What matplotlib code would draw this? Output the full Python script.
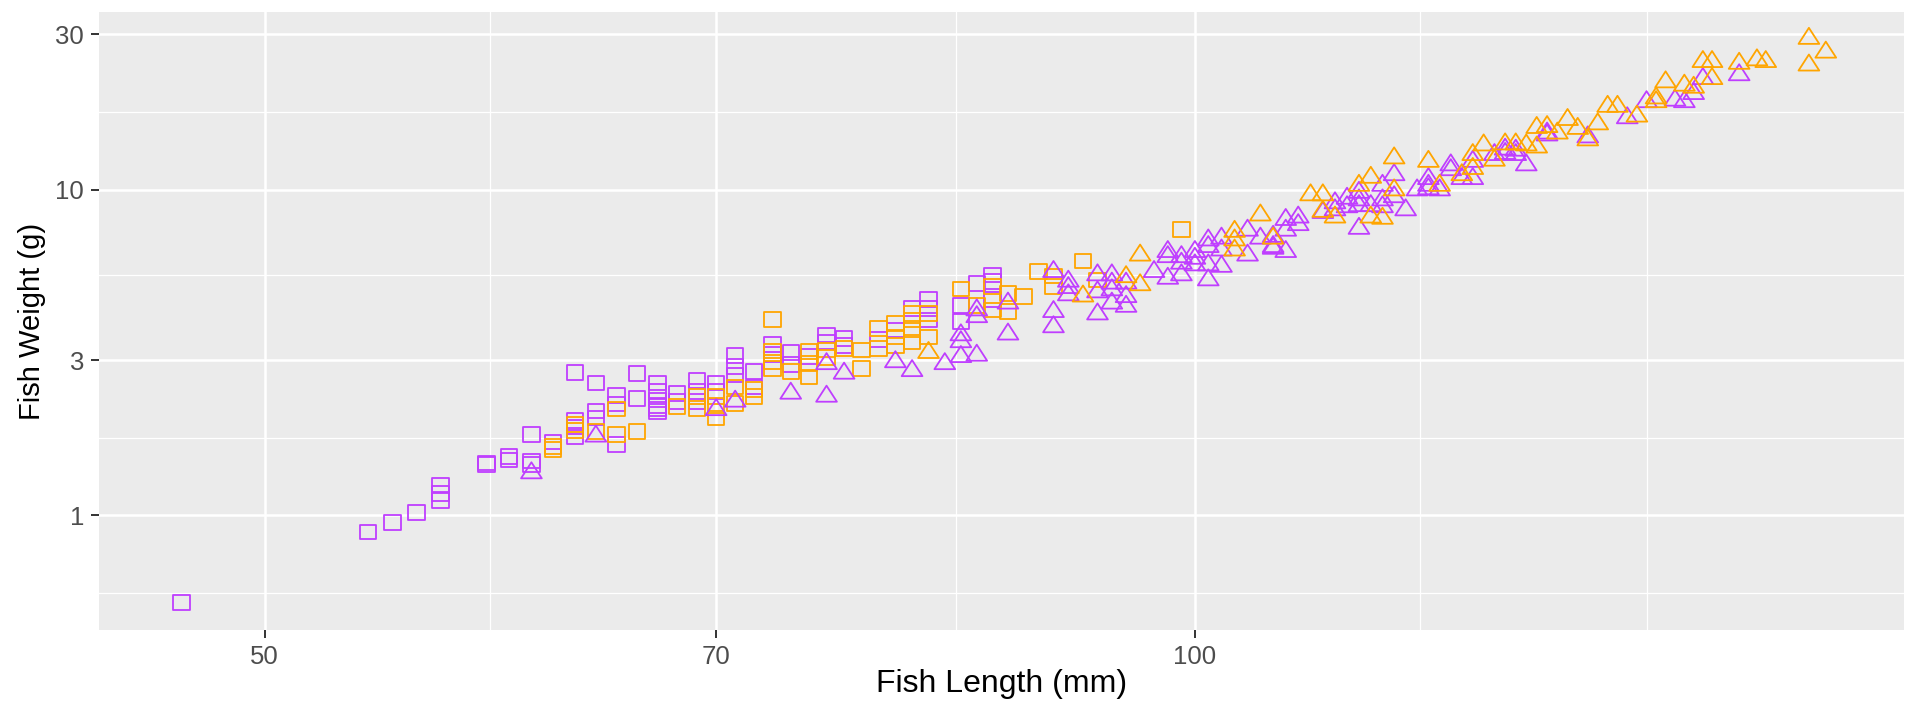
import matplotlib
matplotlib.use("Agg")
import matplotlib.pyplot as plt
from matplotlib.path import Path

# fish length (mm) and weight (g)
purple_squares = [(47, 0.54), (54, 0.89), (55, 0.95), (56, 1.02), (57, 1.11), (57, 1.17), (57, 1.24),
                  (59, 1.43), (59, 1.45), (60, 1.48), (60, 1.52), (61, 1.77), (61, 1.43), (61, 1.47),
                  (62, 1.68), (63, 2.75), (63, 1.96), (63, 1.87), (63, 1.74), (64, 2.55), (64, 2.09),
                  (64, 1.99), (65, 2.33), (65, 2.20), (65, 1.65), (66, 2.73), (66, 2.29), (67, 2.55),
                  (67, 2.40), (67, 2.26), (67, 2.18), (67, 2.08), (67, 2.12), (68, 2.37), (68, 2.24),
                  (69, 2.60), (69, 2.40), (69, 2.24), (70, 2.55), (70, 2.40), (71, 3.09), (71, 2.86),
                  (71, 2.70), (72, 2.76), (72, 2.48), (73, 3.35), (73, 3.12), (74, 3.16), (74, 2.90),
                  (75, 3.07), (76, 3.58), (76, 3.41), (77, 3.50), (77, 3.33), (79, 3.46), (80, 3.71),
                  (81, 4.32), (82, 4.60), (82, 4.32), (82, 3.98), (84, 4.42), (84, 3.94), (85, 5.16),
                  (86, 5.47), (86, 5.23), (86, 4.59)]

orange_squares = [(62, 1.63), (62, 1.59), (63, 1.90), (63, 1.82), (64, 1.81), (65, 2.12), (65, 1.77),
                  (66, 1.81), (68, 2.16), (69, 2.32), (69, 2.13), (70, 2.32), (70, 2.18), (70, 1.99),
                  (71, 2.48), (71, 2.21), (72, 2.43), (72, 2.32), (73, 4.00), (73, 3.20), (73, 2.96),
                  (73, 2.83), (74, 2.76), (75, 3.18), (75, 2.93), (75, 2.66), (76, 3.22), (76, 3.05),
                  (77, 3.25), (78, 3.22), (78, 2.83), (79, 3.75), (79, 3.25), (80, 3.88), (80, 3.53),
                  (80, 3.33), (81, 4.17), (81, 3.98), (81, 3.71), (81, 3.41), (82, 4.17), (82, 3.53),
                  (84, 4.95), (85, 4.42), (86, 5.05), (86, 4.27), (87, 4.80), (87, 4.22), (88, 4.71),
                  (89, 5.60), (90, 5.43), (90, 5.05), (92, 6.04), (93, 5.28), (99, 7.55)]

purple_triangles = [(61, 1.35), (64, 1.75), (70, 2.11), (71, 2.24), (74, 2.37), (76, 2.92), (76, 2.32),
                    (77, 2.73), (80, 2.96), (81, 2.78), (83, 2.92), (84, 3.58), (84, 3.41), (84, 3.07),
                    (85, 4.27), (85, 4.07), (85, 3.10), (87, 4.48), (87, 3.60), (90, 5.60), (90, 4.22),
                    (90, 3.79), (91, 5.23), (91, 5.00), (91, 4.75), (93, 5.47), (93, 4.85), (93, 4.15),
                    (94, 5.47), (94, 5.16), (94, 4.92), (94, 4.48), (95, 5.16), (95, 4.69), (95, 4.38),
                    (97, 5.60), (98, 6.45), (98, 6.22), (98, 5.34), (99, 6.22), (99, 5.94), (99, 5.47),
                    (100, 6.45), (100, 6.15), (100, 5.87), (101, 7.00), (101, 6.68), (101, 5.87),
                    (101, 5.28), (102, 7.09), (102, 6.52), (102, 5.81), (104, 7.50), (104, 6.29),
                    (105, 7.09), (106, 6.68), (106, 7.18), (106, 6.60), (107, 8.09), (107, 7.50),
                    (107, 6.45), (108, 8.23), (108, 7.80), (110, 8.50), (111, 9.10), (111, 8.66),
                    (112, 9.40), (112, 8.85), (113, 9.80), (113, 9.29), (113, 8.92), (113, 7.60),
                    (114, 8.92), (115, 10.3), (115, 9.29), (115, 8.85), (116, 11.1), (116, 9.50),
                    (117, 8.66), (118, 9.97), (119, 10.8), (119, 10.3), (119, 10.05), (120, 9.97),
                    (121, 11.9), (121, 11.5), (122, 10.8), (123, 12.2), (123, 10.8), (125, 12.8),
                    (126, 13.3), (126, 12.9), (127, 13.2), (127, 12.8), (128, 11.9), (130, 14.9),
                    (130, 14.7), (134, 14.5), (138, 16.6), (140, 18.6), (143, 18.8), (144, 18.6),
                    (145, 19.7), (146, 21.9), (150, 22.5)]

orange_triangles = [(82, 3.16), (92, 4.71), (95, 5.40), (96, 6.29), (96, 5.10), (103, 7.44), (103, 7.00),
                    (103, 6.52), (105, 8.35), (106, 7.09), (109, 9.63), (110, 9.63), (110, 8.57),
                    (111, 8.23), (113, 10.3), (114, 10.9), (114, 8.23), (115, 8.16), (116, 12.5),
                    (116, 9.97), (119, 12.2), (120, 10.3), (122, 11.1), (123, 12.8), (123, 11.6),
                    (124, 13.7), (125, 12.3), (126, 13.8), (127, 13.8), (128, 13.7), (129, 15.5),
                    (129, 13.5), (130, 15.6), (131, 14.9), (132, 16.4), (133, 15.4), (134, 14.2),
                    (135, 15.9), (136, 18.0), (137, 18.0), (139, 16.8), (141, 19.1), (141, 18.6),
                    (142, 21.4), (144, 20.9), (145, 20.6), (146, 24.7), (147, 24.7), (147, 21.9),
                    (150, 24.4), (152, 25.0), (153, 24.7), (158, 29.1), (158, 24.1), (160, 26.4)]

x_breaks = [50, 70, 100]
y_breaks = [1, 3, 10, 30]

PURPLE = "#BF3EFF"
ORANGE = "#FFA500"

# R style open markers, a bit wider than tall like the reference
square = Path([(-0.56, -0.5), (0.56, -0.5), (0.56, 0.5), (-0.56, 0.5), (-0.56, -0.5)], closed=True)
triangle = Path([(0, 1.555), (1.508, -0.778), (-1.508, -0.778), (0, 1.555)], closed=True)

fig = plt.figure(figsize=(19.11, 7.02), dpi=100)
ax = fig.add_axes([99 / 1911, 1 - 630 / 702, (1904 - 99) / 1911, (630 - 12) / 702])
ax.set_facecolor("#EBEBEB")


def draw(points, marker, color, size):
    xs = [p[0] for p in points]
    ys = [p[1] for p in points]
    ax.scatter(xs, ys, marker=marker, s=size, facecolors="none", edgecolors=color,
               linewidths=1.3, zorder=3)


draw(purple_squares, square, PURPLE, 140)
draw(orange_squares, square, ORANGE, 140)
draw(purple_triangles, triangle, PURPLE, 237)
draw(orange_triangles, triangle, ORANGE, 237)

ax.set_xscale("log")
ax.set_yscale("log")
ax.set_xlim(44.2, 169.6)
ax.set_ylim(0.445, 35.1)

ax.set_xticks(x_breaks)
ax.set_xticklabels([str(v) for v in x_breaks])
ax.set_yticks(y_breaks)
ax.set_yticklabels([str(v) for v in y_breaks])
ax.set_xticks([59.16, 83.67, 118.3, 140], minor=True)
ax.set_yticks([0.58, 1.73, 5.48, 17.3], minor=True)
ax.xaxis.set_minor_formatter(plt.NullFormatter())
ax.yaxis.set_minor_formatter(plt.NullFormatter())

ax.grid(True, which="major", color="white", linewidth=1.8, zorder=0)
ax.grid(True, which="minor", color="white", linewidth=0.9, zorder=0)
ax.set_axisbelow(True)
for s in ax.spines.values():
    s.set_visible(False)

ax.tick_params(which="major", length=5.8, width=1.4, color="#333333", pad=5,
               labelsize=18.5, labelcolor="#4D4D4D")
ax.tick_params(which="minor", length=0)
for lab in ax.get_xticklabels() + ax.get_yticklabels():
    lab.set_family("Liberation Sans")

ax.set_xlabel("Fish Length (mm)", fontsize=23, family="Liberation Sans")
ax.set_ylabel("Fish Weight (g)", fontsize=21, family="Liberation Sans")
ax.xaxis.label.set_verticalalignment("baseline")
ax.xaxis.set_label_coords(0.5, -62 / 618)
ax.yaxis.label.set_verticalalignment("baseline")
ax.yaxis.set_label_coords(-58.7 / 1805, 0.5)

fig.savefig("out.png", dpi=100)
